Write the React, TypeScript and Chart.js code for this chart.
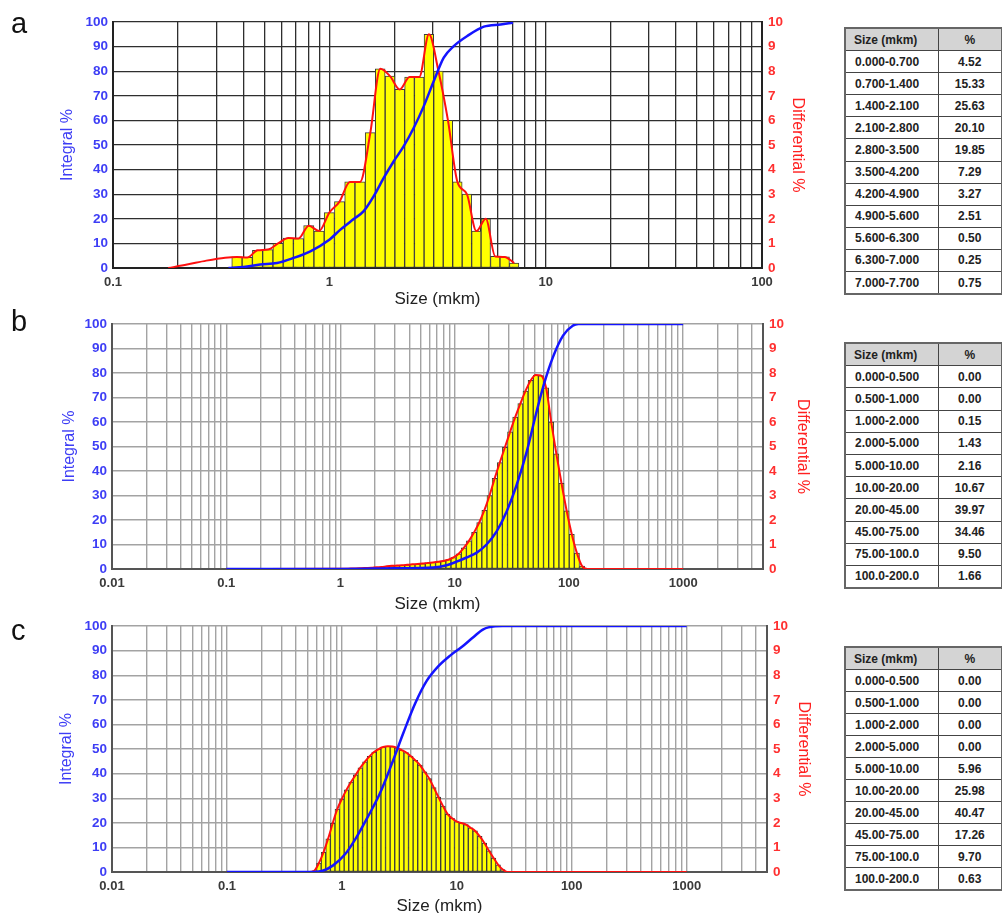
import React, { useEffect, useRef } from 'react';
import { Chart, registerables } from 'chart.js';
Chart.register(...registerables);

// ---------- Panel a ----------
const aBarSize = [0.374, 0.4175, 0.4657, 0.5194, 0.5794, 0.646, 0.7203, 0.8036, 0.8963, 1.0, 1.115, 1.244, 1.387, 1.547, 1.72, 1.907, 2.116, 2.348, 2.604, 2.886, 3.196, 3.535, 3.909, 4.324, 4.782, 5.286, 5.847, 6.466, 7.152];
const aBarDiff = [0.45, 0.43, 0.72, 0.75, 1.0, 1.22, 1.2, 1.72, 1.5, 2.25, 2.7, 3.5, 3.5, 5.5, 8.1, 7.8, 7.26, 7.76, 7.76, 9.5, 8.0, 6.0, 3.5, 3.0, 1.5, 2.0, 0.47, 0.45, 0.2];
const aRedLeadSize = [0.18, 0.22, 0.27, 0.33];
const aRedLeadDiff = [0, 0.14, 0.3, 0.42];
const aBlueSize = [0.342, 0.401, 0.479, 0.573, 0.684, 0.817, 1.0, 1.125, 1.296, 1.442, 1.604, 1.784, 1.985, 2.208, 2.457, 2.733, 3.04, 3.38, 3.76, 4.34, 5.18, 6.19, 7.06];
const aBlueInt = [0, 0.4, 1.4, 2.0, 4.1, 6.8, 11.5, 15.6, 19.9, 23.1, 29.2, 36.6, 43.4, 49.5, 57.0, 65.8, 76.0, 85.5, 90.2, 94.3, 98.1, 99.0, 99.7];

// ---------- Panel b ----------
const bBarSize = [1.0, 1.109, 1.23, 1.365, 1.514, 1.679, 1.862, 2.065, 2.291, 2.541, 2.818, 3.126, 3.467, 3.846, 4.266, 4.732, 5.248, 5.821, 6.457, 7.161, 7.943, 8.81, 9.772, 10.84, 12.02, 13.34, 14.79, 16.41, 18.2, 20.18, 22.39, 24.83, 27.54, 30.55, 33.88, 37.58, 41.69, 46.24, 51.29, 56.89, 63.1, 69.98, 77.62, 86.1, 95.5, 105.9, 117.5, 130.3];
const bBarDiff = [0.01, 0.01, 0.02, 0.02, 0.03, 0.04, 0.05, 0.07, 0.08, 0.11, 0.13, 0.14, 0.15, 0.17, 0.19, 0.2, 0.22, 0.25, 0.27, 0.3, 0.33, 0.38, 0.47, 0.62, 0.86, 1.15, 1.5, 1.9, 2.4, 3.0, 3.7, 4.35, 4.97, 5.6, 6.2, 6.75, 7.27, 7.7, 7.92, 7.9, 7.4, 6.0, 4.7, 3.5, 2.38, 1.42, 0.65, 0.12];
const bRedLeadSize = [0.1];
const bRedLeadDiff = [0];
const bRedTailSize = [145, 1000];
const bRedTailDiff = [0, 0];
const bBlueSize = [0.1, 1.0, 3.0, 6.5, 8.5, 10.4, 12.7, 15.6, 19.0, 23.3, 28.5, 34.8, 42.6, 51.8, 59.6, 72.6, 88.8, 108, 121, 1000];
const bBlueInt = [0, 0, 0.3, 0.6, 1.5, 3.0, 4.7, 6.7, 10.0, 15.4, 23.5, 34.2, 47.7, 63.8, 74.5, 86.6, 95.3, 99.3, 100, 100];

// ---------- Panel c ----------
const cBarSize = [0.575, 0.631, 0.692, 0.759, 0.832, 0.912, 1.0, 1.096, 1.202, 1.318, 1.445, 1.585, 1.738, 1.905, 2.089, 2.291, 2.512, 2.754, 3.02, 3.311, 3.631, 3.981, 4.365, 4.786, 5.248, 5.754, 6.31, 6.918, 7.586, 8.318, 9.12, 10.0, 10.96, 12.02, 13.18, 14.45, 15.85, 17.38, 19.05, 20.89, 22.91, 25.12];
const cBarDiff = [0.05, 0.36, 0.8, 1.35, 1.98, 2.56, 2.97, 3.34, 3.66, 3.95, 4.24, 4.48, 4.7, 4.88, 5.0, 5.08, 5.11, 5.1, 5.05, 4.96, 4.86, 4.71, 4.54, 4.35, 4.07, 3.8, 3.43, 3.05, 2.68, 2.35, 2.18, 2.05, 1.99, 1.93, 1.8, 1.67, 1.45, 1.18, 0.86, 0.57, 0.29, 0.1];
const cRedLeadSize = [0.1, 0.52];
const cRedLeadDiff = [0, 0];
const cRedTailSize = [27.5, 1000];
const cRedTailDiff = [0, 0];
const cBlueSize = [0.1, 0.55, 0.67, 0.84, 1.07, 1.33, 1.69, 2.14, 2.71, 3.42, 4.33, 5.47, 6.92, 8.75, 11.1, 14.0, 17.0, 21.5, 25, 1000];
const cBlueInt = [0, 0, 0.4, 2.7, 7.3, 13.9, 22.6, 31.9, 43.8, 56.4, 68.4, 77.7, 83.7, 88.0, 91.6, 95.6, 98.7, 99.9, 100, 100];

// ---------- Axis tick definitions ----------
const MANTISSAS = [1, 2, 3, 4, 5, 6, 7, 8, 9];
const xLabelsA = ['0.1', '1', '10', '100'];
const xLabelsBC = ['0.01', '0.1', '1', '10', '100', '1000'];
const leftTicks = [0, 10, 20, 30, 40, 50, 60, 70, 80, 90, 100];
const rightTicks = [0, 1, 2, 3, 4, 5, 6, 7, 8, 9, 10];

// ---------- Tables ----------
const tableASize = ['0.000-0.700', '0.700-1.400', '1.400-2.100', '2.100-2.800', '2.800-3.500', '3.500-4.200', '4.200-4.900', '4.900-5.600', '5.600-6.300', '6.300-7.000', '7.000-7.700'];
const tableAPct = ['4.52', '15.33', '25.63', '20.10', '19.85', '7.29', '3.27', '2.51', '0.50', '0.25', '0.75'];
const tableBSize = ['0.000-0.500', '0.500-1.000', '1.000-2.000', '2.000-5.000', '5.000-10.00', '10.00-20.00', '20.00-45.00', '45.00-75.00', '75.00-100.0', '100.0-200.0'];
const tableBPct = ['0.00', '0.00', '0.15', '1.43', '2.16', '10.67', '39.97', '34.46', '9.50', '1.66'];
const tableCSize = ['0.000-0.500', '0.500-1.000', '1.000-2.000', '2.000-5.000', '5.000-10.00', '10.00-20.00', '20.00-45.00', '45.00-75.00', '75.00-100.0', '100.0-200.0'];
const tableCPct = ['0.00', '0.00', '0.00', '0.00', '5.96', '25.98', '40.47', '17.26', '9.70', '0.63'];

const zip = (xs: number[], ys: number[]) => xs.map((x, i) => ({ x, y: ys[i] }));

function buildTicks(min: number, max: number): number[] {
  const out: number[] = [];
  for (let e = Math.round(Math.log10(min)); e < 10; e++) {
    for (const m of MANTISSAS) {
      const v = +(m * Math.pow(10, e)).toPrecision(6);
      if (v < min * 0.999) continue;
      if (v > max * 1.001) return out;
      out.push(v);
    }
  }
  return out;
}

type PanelCfg = {
  top: number;
  height: number;
  width: number;
  area: { left: number; right: number; top: number; bottom: number };
  xMin: number;
  xMax: number;
  xLabels: string[];
  gridColor: string;
  gridWidth: number;
  borderColor: string;
  bars: { x: number; y: number }[];
  red: { x: number; y: number }[];
  blue: { x: number; y: number }[];
  leftTitlePad: number;
  rightTitlePad: number;
  bottomTitlePad: number;
};

const FONT = 'Arial, "Liberation Sans", sans-serif';

function Panel({ cfg }: { cfg: PanelCfg }) {
  const ref = useRef<HTMLCanvasElement | null>(null);
  useEffect(() => {
    if (!ref.current) return;
    const ticks = buildTicks(cfg.xMin, cfg.xMax);
    const chart = new Chart(ref.current, {
      type: 'bar',
      data: {
        datasets: [
          {
            type: 'line',
            data: cfg.blue,
            borderColor: '#1414ff',
            borderWidth: 2.5,
            pointRadius: 0,
            cubicInterpolationMode: 'monotone',
            yAxisID: 'yL',
            order: 0,
          } as any,
          {
            type: 'line',
            data: cfg.red,
            borderColor: '#ff1010',
            borderWidth: 2,
            pointRadius: 0,
            cubicInterpolationMode: 'monotone',
            yAxisID: 'yR',
            order: 1,
          } as any,
          {
            type: 'bar',
            data: cfg.bars,
            backgroundColor: '#ffff00',
            borderColor: '#3a3a3a',
            borderWidth: 1,
            borderSkipped: false,
            barThickness: 'flex',
            barPercentage: 1,
            categoryPercentage: 1,
            yAxisID: 'yR',
            order: 2,
          } as any,
        ],
      },
      options: {
        responsive: false,
        animation: false,
        events: [],
        layout: { padding: { top: cfg.area.top, left: 0, right: 0, bottom: 0 } },
        plugins: { legend: { display: false }, tooltip: { enabled: false }, title: { display: false } },
        scales: {
          x: {
            type: 'logarithmic',
            position: 'bottom',
            offset: false,
            min: cfg.xMin,
            max: cfg.xMax,
            afterBuildTicks: (s: any) => {
              s.ticks = ticks.map((v) => ({ value: v }));
            },
            afterFit: (s: any) => {
              s.height = cfg.height - cfg.area.bottom;
            },
            ticks: {
              autoSkip: false,
              maxRotation: 0,
              minRotation: 0,
              padding: 7,
              color: '#3a3a3a',
              font: { family: FONT, size: 13, weight: 'bold' },
              callback: (v: any) => {
                const val = Number(v);
                const l = Math.log10(val);
                if (Math.abs(l - Math.round(l)) < 1e-6) {
                  const s = String(+val.toPrecision(6));
                  return cfg.xLabels.includes(s) ? s : '';
                }
                return '';
              },
            },
            grid: { color: cfg.gridColor, lineWidth: cfg.gridWidth, drawTicks: false, offset: false },
            border: { color: cfg.borderColor, width: 2 },
            title: {
              display: true,
              text: 'Size (mkm)',
              color: '#222',
              font: { family: FONT, size: 17 },
              padding: { top: 0, bottom: cfg.bottomTitlePad },
            },
          },
          yL: {
            type: 'linear',
            position: 'left',
            min: 0,
            max: 100,
            afterBuildTicks: (s: any) => {
              s.ticks = leftTicks.map((v) => ({ value: v }));
            },
            afterFit: (s: any) => {
              s.width = cfg.area.left;
            },
            ticks: {
              padding: 5,
              color: '#3d3df5',
              font: { family: FONT, size: 13.5, weight: 'bold' },
            },
            grid: { color: cfg.gridColor, lineWidth: cfg.gridWidth, drawTicks: false },
            border: { color: cfg.borderColor, width: 2 },
            title: {
              display: true,
              text: 'Integral %',
              color: '#3d3df5',
              font: { family: FONT, size: 16 },
              padding: { top: cfg.leftTitlePad, bottom: 0 },
            },
          },
          yR: {
            type: 'linear',
            position: 'right',
            min: 0,
            max: 10,
            afterBuildTicks: (s: any) => {
              s.ticks = rightTicks.map((v) => ({ value: v }));
            },
            afterFit: (s: any) => {
              s.width = cfg.width - cfg.area.right;
            },
            ticks: {
              padding: 6,
              color: '#ff3030',
              font: { family: FONT, size: 13.5, weight: 'bold' },
            },
            grid: { drawOnChartArea: false, drawTicks: false },
            border: { color: cfg.borderColor, width: 2 },
            title: {
              display: true,
              text: 'Differential %',
              color: '#ff2020',
              font: { family: FONT, size: 16 },
              padding: { top: cfg.rightTitlePad, bottom: 0 },
            },
          },
        },
      } as any,
    });
    return () => chart.destroy();
  }, [cfg]);
  return (
    <canvas
      ref={ref}
      width={cfg.width}
      height={cfg.height}
      style={{ position: 'absolute', left: 0, top: cfg.top, width: cfg.width, height: cfg.height }}
    />
  );
}

const panelA: PanelCfg = {
  top: 0,
  height: 310,
  width: 840,
  area: { left: 113, right: 762, top: 22, bottom: 268 },
  xMin: 0.1,
  xMax: 100,
  xLabels: xLabelsA,
  gridColor: '#2e2e2e',
  gridWidth: 1.3,
  borderColor: '#222',
  bars: zip(aBarSize, aBarDiff),
  red: zip(aRedLeadSize.concat(aBarSize), aRedLeadDiff.concat(aBarDiff)),
  blue: zip(aBlueSize, aBlueInt),
  leftTitlePad: 58,
  rightTitlePad: 33,
  bottomTitlePad: 0,
};

const panelB: PanelCfg = {
  top: 310,
  height: 302,
  width: 840,
  area: { left: 112, right: 763, top: 9, bottom: 259 },
  xMin: 0.01,
  xMax: 5000,
  xLabels: xLabelsBC,
  gridColor: '#a3a3a3',
  gridWidth: 1.4,
  borderColor: '#555',
  bars: zip(bBarSize, bBarDiff),
  red: zip(bRedLeadSize.concat(bBarSize, bRedTailSize), bRedLeadDiff.concat(bBarDiff, bRedTailDiff)),
  blue: zip(bBlueSize, bBlueInt),
  leftTitlePad: 60,
  rightTitlePad: 28,
  bottomTitlePad: -3,
};

const panelC: PanelCfg = {
  top: 612,
  height: 301,
  width: 840,
  area: { left: 112, right: 767, top: 9, bottom: 260 },
  xMin: 0.01,
  xMax: 5000,
  xLabels: xLabelsBC,
  gridColor: '#a3a3a3',
  gridWidth: 1.4,
  borderColor: '#555',
  bars: zip(cBarSize, cBarDiff),
  red: zip(cRedLeadSize.concat(cBarSize, cRedTailSize), cRedLeadDiff.concat(cBarDiff, cRedTailDiff)),
  blue: zip(cBlueSize, cBlueInt),
  leftTitlePad: 57,
  rightTitlePad: 27,
  bottomTitlePad: -4,
};

function SizeTable({ top, rowH, sizes, pcts }: { top: number; rowH: number; sizes: string[]; pcts: string[] }) {
  const cell: React.CSSProperties = {
    border: '1px solid #444',
    height: rowH - 1,
    padding: 0,
    fontFamily: FONT,
    fontWeight: 'bold',
    fontSize: 12,
    color: '#222',
    lineHeight: '12px',
  };
  return (
    <table
      style={{
        position: 'absolute',
        left: 844,
        top,
        width: 157,
        borderCollapse: 'collapse',
        border: '2px solid #666',
        tableLayout: 'fixed',
      }}
    >
      <colgroup>
        <col style={{ width: 93 }} />
        <col style={{ width: 64 }} />
      </colgroup>
      <tbody>
        <tr>
          <td style={{ ...cell, background: '#d4d4d4', paddingLeft: 8 }}>Size (mkm)</td>
          <td style={{ ...cell, background: '#d4d4d4', textAlign: 'center' }}>%</td>
        </tr>
        {sizes.map((s, i) => (
          <tr key={s}>
            <td style={{ ...cell, paddingLeft: 9 }}>{s}</td>
            <td style={{ ...cell, textAlign: 'center' }}>{pcts[i]}</td>
          </tr>
        ))}
      </tbody>
    </table>
  );
}

const letterStyle: React.CSSProperties = {
  position: 'absolute',
  left: 11,
  fontFamily: FONT,
  fontSize: 29,
  lineHeight: '29px',
  color: '#111',
};

export default function App() {
  return (
    <div style={{ position: 'absolute', left: 0, top: 0, width: 1002, height: 913, background: '#fff', overflow: 'hidden' }}>
      <Panel cfg={panelA} />
      <Panel cfg={panelB} />
      <Panel cfg={panelC} />
      <div style={{ ...letterStyle, top: 9 }}>a</div>
      <div style={{ ...letterStyle, top: 307 }}>b</div>
      <div style={{ ...letterStyle, top: 616 }}>c</div>
      <SizeTable top={27} rowH={22.1} sizes={tableASize} pcts={tableAPct} />
      <SizeTable top={342} rowH={22.2} sizes={tableBSize} pcts={tableBPct} />
      <SizeTable top={646} rowH={22} sizes={tableCSize} pcts={tableCPct} />
    </div>
  );
}
